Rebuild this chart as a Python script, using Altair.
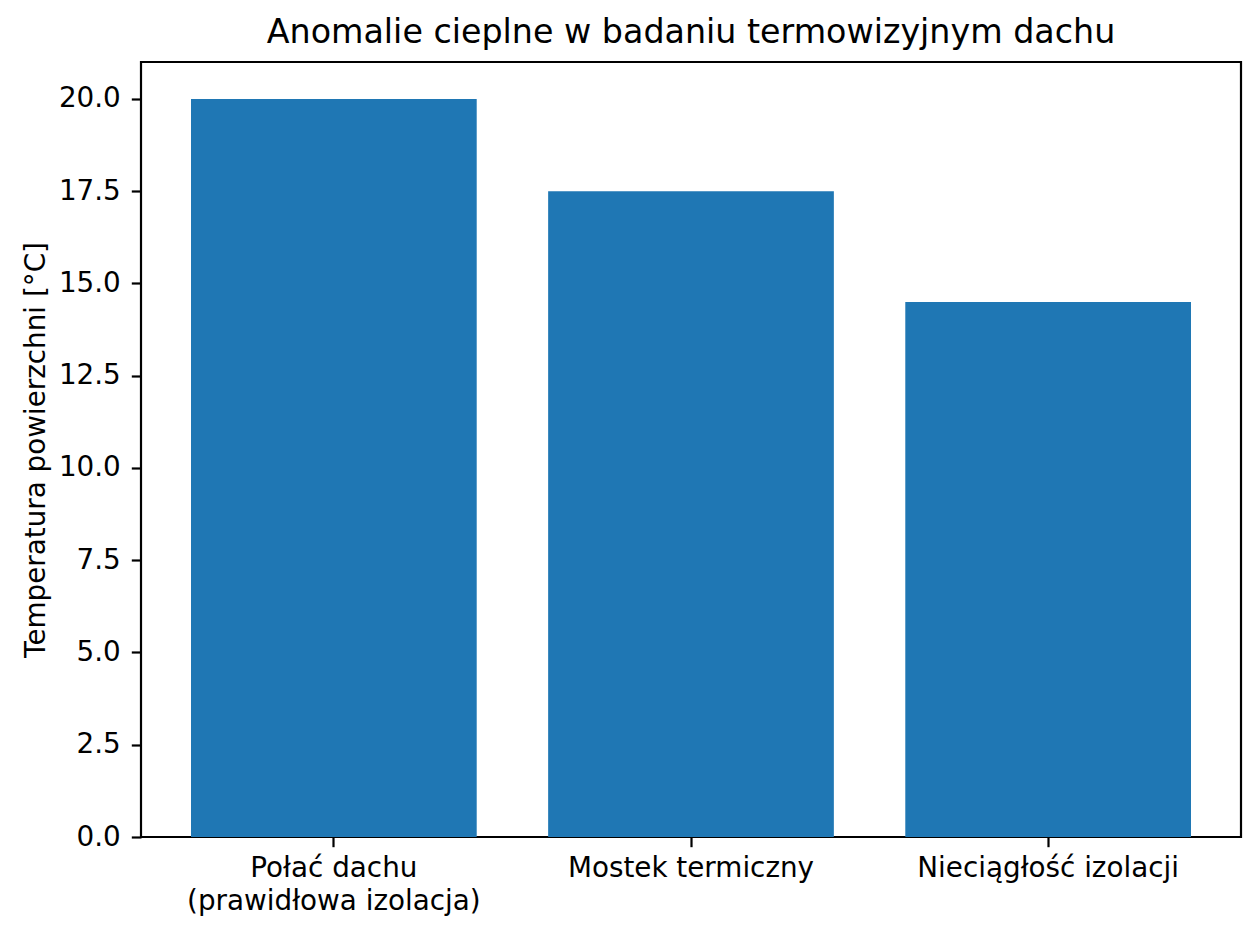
import altair as alt
import pandas as pd

categories = ["Połać dachu|(prawidłowa izolacja)", "Mostek termiczny", "Nieciągłość izolacji"]
values = [20.0, 17.5, 14.5]
y_ticks = [0.0, 2.5, 5.0, 7.5, 10.0, 12.5, 15.0, 17.5, 20.0]

df = pd.DataFrame({"cat": categories, "val": values})

FONT = "DejaVu Sans"
FS = 27.8

chart = alt.Chart(df).mark_bar(color="#1f77b4").encode(
    x=alt.X("cat:N", sort=categories,
            scale=alt.Scale(paddingInner=0.2, paddingOuter=0.14),
            axis=alt.Axis(title=None, labelAngle=0, labelExpr="split(datum.value, '|')",
                          labelFontSize=FS, labelFont=FONT, labelColor="black",
                          labelLineHeight=33, labelPadding=8, labelLimit=1000,
                          tickSize=9.7, tickWidth=2.2, tickColor="black",
                          domain=False, grid=False)),
    y=alt.Y("val:Q", scale=alt.Scale(domain=[0, 21], nice=False),
            axis=alt.Axis(title="Temperatura powierzchni [°C]", values=y_ticks, format=".1f",
                          labelFontSize=FS, labelFont=FONT, labelColor="black", labelPadding=11,
                          titleFontSize=FS, titleFont=FONT, titleColor="black",
                          titleFontWeight="normal", titlePadding=8,
                          tickSize=9.7, tickWidth=2.2, tickColor="black",
                          domain=False, grid=False)),
).properties(
    width=1100, height=775,
    title=alt.TitleParams("Anomalie cieplne w badaniu termowizyjnym dachu",
                          font=FONT, fontSize=33.3, fontWeight="normal", color="black",
                          anchor="middle", offset=12),
    autosize=alt.AutoSizeParams(type="none"),
    padding={"left": 133, "top": 54, "right": 10, "bottom": 92},
    background="white",
).configure_view(stroke="black", strokeWidth=2.2)

chart.save("out.html", embed_options={"renderer": "svg", "actions": False})
